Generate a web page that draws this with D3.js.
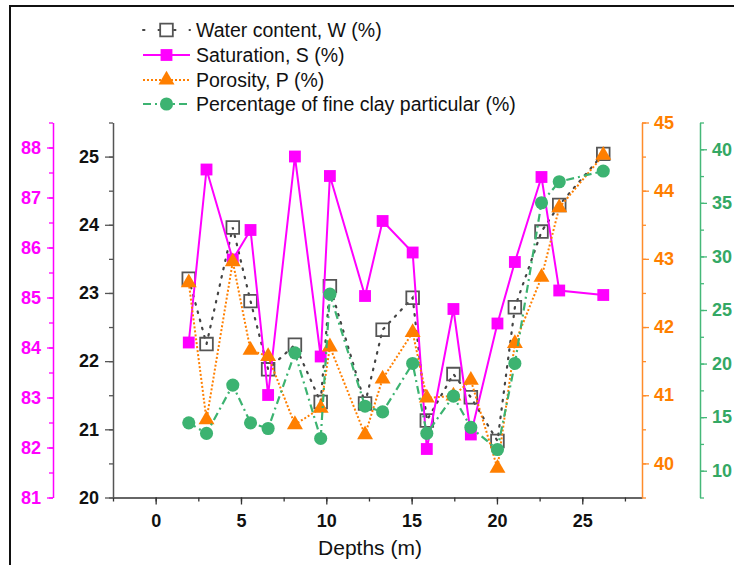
<!DOCTYPE html>
<html>
<head>
<meta charset="utf-8">
<script src="https://cdn.jsdelivr.net/npm/d3@7"></script>
<style>
html,body{margin:0;padding:0;background:#fff;}
svg{display:block;font-family:"Liberation Sans",Arial,sans-serif;}
</style>
</head>
<body>
<svg id="chart" width="734" height="565"></svg>
<script>
// ---- data ----
const depths = [1.94, 2.98, 4.52, 5.56, 6.59, 8.16, 9.67, 10.21, 12.27, 13.30, 15.06, 15.89, 17.45, 18.47, 20.03, 21.05, 22.61, 23.65, 26.23];
const waterContent = [23.21, 22.25, 23.96, 22.88, 21.88, 22.24, 21.40, 23.10, 21.38, 22.46, 22.93, 21.13, 21.81, 21.47, 20.83, 22.79, 23.90, 24.29, 25.04];
const saturation = [84.10, 87.56, 85.76, 86.35, 83.05, 87.82, 83.82, 87.43, 85.03, 86.53, 85.90, 81.97, 84.77, 82.26, 84.48, 85.71, 87.41, 85.14, 85.05];
const porosity = [42.65, 40.64, 42.96, 41.66, 41.57, 40.57, 40.81, 41.71, 40.42, 41.24, 41.92, 40.96, 40.99, 41.22, 39.93, 41.76, 42.73, 43.75, 44.52];
const fineClay = [14.47, 13.48, 17.99, 14.47, 13.94, 21.00, 13.01, 26.48, 16.02, 15.49, 20.01, 13.48, 16.96, 14.04, 11.98, 20.01, 35.01, 36.97, 37.97];

const xTicks = [0, 5, 10, 15, 20, 25];
const wTicks = [20, 21, 22, 23, 24, 25];
const sTicks = [81, 82, 83, 84, 85, 86, 87, 88];
const pTicks = [40, 41, 42, 43, 44, 45];
const cTicks = [10, 15, 20, 25, 30, 35, 40];

const legendLabels = ["Water content, W (%)", "Saturation, S (%)", "Porosity, P (%)", "Percentage of fine clay particular (%)"];
const xTitle = "Depths (m)";

// ---- colours ----
const cW = "#555555", cS = "#ff00ff", cP = "#ff7f00", cC = "#3cb371";

const svg = d3.select("#chart");

// frame
svg.append("path").attr("d", "M10,700 L10,6 L740,6").attr("fill", "none").attr("stroke", "#111").attr("stroke-width", 2);

const pTop = 122.5, pBottom = 497.5, pLeft = 113, pRight = 642;
const x = d3.scaleLinear().domain([-2.5, 28.5]).range([pLeft, pRight]);
const yW = d3.scaleLinear().domain([20, 25.5]).range([pBottom, pTop]);
const yS = d3.scaleLinear().domain([81, 88.5]).range([pBottom, pTop]);
const yP = d3.scaleLinear().domain([39.5, 45]).range([pBottom, pTop]);
const yC = d3.scaleLinear().domain([7.5, 42.5]).range([pBottom, pTop]);

function minorTicks(scale, step) {
  const [a, b] = scale.domain();
  const out = [];
  for (let v = Math.ceil(a / step - 1e-9) * step; v <= b + 1e-9; v += step) out.push(+v.toFixed(4));
  return out;
}

function drawAxis(gen, scale, major, minorStep, xpos, ypos, lineColor, labelColor, tick, pad) {
  const gMinor = svg.append("g").attr("transform", `translate(${xpos},${ypos})`)
    .call(gen(scale).tickValues(minorTicks(scale, minorStep)).tickSize(4).tickFormat(""));
  gMinor.select(".domain").remove();
  gMinor.selectAll("line").attr("stroke", lineColor).attr("stroke-width", 1.3);
  const g = svg.append("g").attr("transform", `translate(${xpos},${ypos})`)
    .call(gen(scale).tickValues(major).tickSize(tick).tickSizeOuter(0).tickPadding(pad).tickFormat(d3.format("d")));
  g.select(".domain").attr("stroke", lineColor).attr("stroke-width", 1.5);
  g.selectAll("line").attr("stroke", lineColor).attr("stroke-width", 1.3);
  g.selectAll("text").attr("fill", labelColor).attr("font-size", 18).attr("font-weight", "bold")
    .attr("font-family", "'Liberation Sans',Arial,sans-serif");
  return g;
}

drawAxis(d3.axisBottom, x, xTicks, 2.5, 0, pBottom, "#333", "#111", 7, 5).selectAll("text").attr("dy", "0.95em");
drawAxis(d3.axisLeft, yW, wTicks, 0.5, pLeft, 0, "#555", "#111", 8, 6);
drawAxis(d3.axisLeft, yS, sTicks, 0.5, 53, 0, cS, cS, 6, 6);
drawAxis(d3.axisRight, yP, pTicks, 0.5, pRight, 0, "#ff8c2a", "#ff7f00", 7, 5);
drawAxis(d3.axisRight, yC, cTicks, 2.5, 700, 0, "#45b878", "#34a864", 7, 5);

svg.append("text").attr("x", 370).attr("y", 555).attr("text-anchor", "middle")
  .attr("font-size", 21).attr("fill", "#111").text(xTitle);

// ---- series ----
const sqW = d3.symbol().type(d3.symbolSquare).size(160);
const sqS = d3.symbol().type(d3.symbolSquare).size(140);
const tri = d3.symbol().type(d3.symbolTriangle).size(110);
const circ = d3.symbol().type(d3.symbolCircle).size(135);

const series = [
  {vals: waterContent, y: yW, color: "#444", dash: "1.5,7", width: 2.2, sym: sqW, fill: "none", stroke: cW, sw: 1.8},
  {vals: saturation, y: yS, color: cS, dash: null, width: 2, sym: sqS, fill: cS, stroke: "none", sw: 0},
  {vals: porosity, y: yP, color: cP, dash: "2,2", width: 2, sym: tri, fill: cP, stroke: "none", sw: 0},
  {vals: fineClay, y: yC, color: cC, dash: "8,4,2,4", width: 2.2, sym: circ, fill: cC, stroke: "none", sw: 0}
];

series.forEach(s => {
  const pts = depths.map((d, i) => [x(d), s.y(s.vals[i])]);
  svg.append("path").datum(pts).attr("d", d3.line())
    .attr("fill", "none").attr("stroke", s.color).attr("stroke-width", s.width)
    .attr("stroke-dasharray", s.dash).attr("stroke-linecap", s.dash === "1.5,7" ? "round" : "butt");
  svg.append("g").selectAll("path").data(pts).join("path")
    .attr("transform", p => `translate(${p[0]},${p[1]})`)
    .attr("d", s.sym).attr("fill", s.fill).attr("stroke", s.stroke).attr("stroke-width", s.sw);
});

// ---- legend ----
const legY = [30, 55, 80, 104];
series.forEach((s, i) => {
  const g = svg.append("g").attr("transform", `translate(0,${legY[i]})`);
  g.append("line").attr("x1", 143).attr("x2", 190).attr("y1", 0).attr("y2", 0)
    .attr("stroke", s.color).attr("stroke-width", 2)
    .attr("stroke-dasharray", i === 0 ? "1.5,14" : s.dash)
    .attr("stroke-linecap", i === 0 ? "round" : "butt");
  g.append("path").attr("transform", "translate(166.5,0)").attr("d", s.sym)
    .attr("fill", i === 0 ? "#fff" : s.fill).attr("stroke", s.stroke).attr("stroke-width", s.sw);
  g.append("text").attr("x", 196).attr("y", 0).attr("dy", "0.35em")
    .attr("font-size", 19.5).attr("fill", "#111").text(legendLabels[i]);
});
</script>
</body>
</html>
